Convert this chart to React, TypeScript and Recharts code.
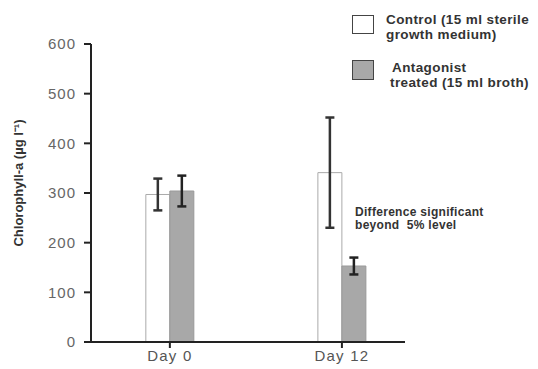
import React from 'react'
import { BarChart, Bar, XAxis, YAxis, ErrorBar, Label } from 'recharts'

const days = [0, 12]
const dayLabels = ['Day 0', 'Day 12']
const control = [297, 341]
const controlErr = [32, 111]
const antagonist = [304, 153]
const antagonistErr = [31, 17]
const yTicks = [0, 100, 200, 300, 400, 500, 600]

const data = days.map((d, i) => ({
  day: d,
  control: control[i],
  controlErr: controlErr[i],
  antagonist: antagonist[i],
  antagonistErr: antagonistErr[i],
}))

const font = '"Liberation Sans", Arial, sans-serif'

const YTitle = () => (
  <text
    x={18}
    y={183}
    transform="rotate(-90, 18, 183)"
    textAnchor="middle"
    dominantBaseline="central"
    fontSize={13}
    fontWeight="bold"
    fill="#333"
    fontFamily={font}
  >
    Chlorophyll-a (µg l⁻¹)
  </text>
)

const legendText = { position: 'absolute' as const, fontSize: 13.5, fontWeight: 'bold', color: '#333', lineHeight: '15px', letterSpacing: 0.4, whiteSpace: 'nowrap' as const }

export default function App() {
  return (
    <div style={{ position: 'absolute', left: 0, top: 0, width: 538, height: 369, background: '#fff', fontFamily: font }}>
      <BarChart
        width={538}
        height={369}
        data={data}
        margin={{ top: 44, right: 133, bottom: 0, left: 0 }}
        barGap={0}
        barSize={24}
      >
        <XAxis
          dataKey="day"
          type="number"
          domain={[-5.5, 16.4]}
          allowDataOverflow
          ticks={days}
          tickFormatter={(v: number) => dayLabels[days.indexOf(v)] ?? ''}
          height={27}
          stroke="#222"
          strokeWidth={2}
          tickSize={6}
          tickMargin={2}
          tick={{ fontSize: 15, fill: '#555', fontFamily: font, letterSpacing: 1.2 }}
        />
        <YAxis
          domain={[0, 600]}
          ticks={yTicks}
          width={91}
          stroke="#222"
          strokeWidth={2}
          tickSize={7}
          tickMargin={8}
          tick={{ fontSize: 15, fill: '#666', fontFamily: font, letterSpacing: 1 }}
        >
          <Label content={<YTitle />} />
        </YAxis>
        <Bar dataKey="control" fill="#fff" stroke="#aaa" strokeWidth={1} isAnimationActive={false}>
          <ErrorBar dataKey="controlErr" width={4.5} stroke="#333" strokeWidth={2.5} />
        </Bar>
        <Bar dataKey="antagonist" fill="#a8a8a8" stroke="#999" strokeWidth={1} isAnimationActive={false}>
          <ErrorBar dataKey="antagonistErr" width={4.5} stroke="#222" strokeWidth={2.5} />
        </Bar>
      </BarChart>

      <div style={{ position: 'absolute', left: 352, top: 15, width: 20, height: 17, border: '1.5px solid #444', background: '#fff' }} />
      <div style={{ ...legendText, left: 386, top: 12 }}>
        Control (15 ml sterile
        <br />
        growth medium)
      </div>
      <div style={{ position: 'absolute', left: 352, top: 60, width: 20, height: 18, border: '1.5px solid #444', background: '#a8a8a8' }} />
      <div style={{ ...legendText, left: 390, top: 60 }}>
        <span style={{ paddingLeft: 2 }}>Antagonist</span>
        <br />
        treated (15 ml broth)
      </div>
      <div style={{ position: 'absolute', left: 355, top: 206, fontSize: 12, fontWeight: 'bold', color: '#333', lineHeight: '13px', letterSpacing: 0.3, whiteSpace: 'nowrap' }}>
        Difference significant
        <br />
        beyond&nbsp; 5% level
      </div>
    </div>
  )
}
